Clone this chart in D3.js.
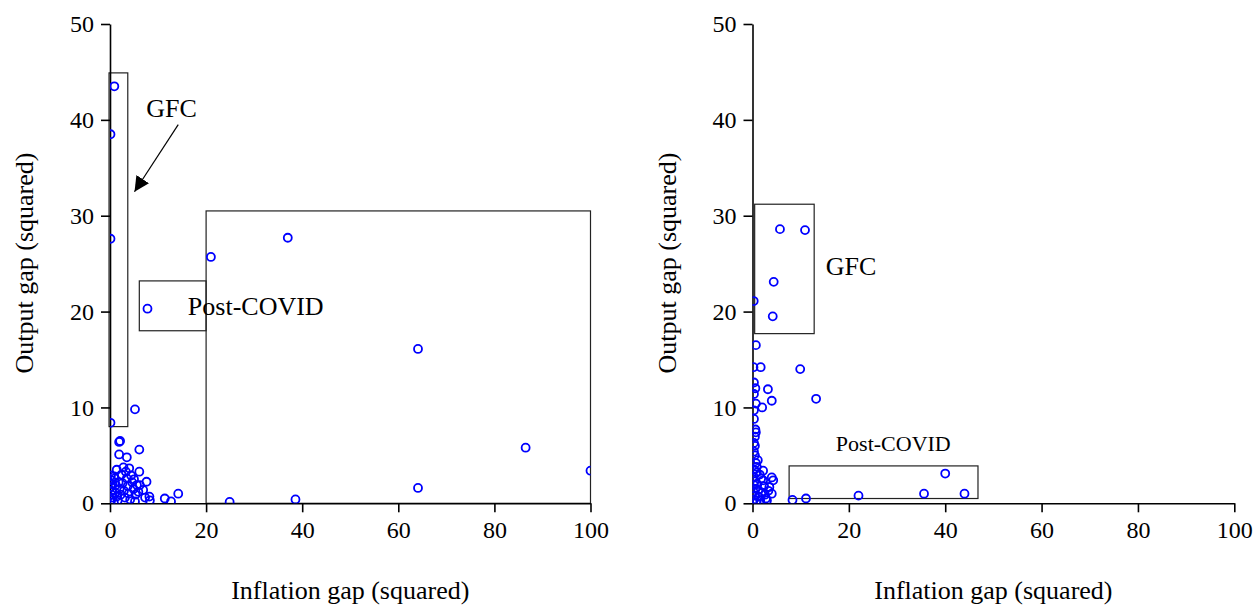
<!DOCTYPE html>
<html>
<head>
<meta charset="utf-8">
<script src="https://cdn.jsdelivr.net/npm/d3@7"></script>
<style>
  body { margin: 0; background: #fff; }
  svg { display: block; font-family: "Liberation Serif", "Times New Roman", serif; }
</style>
</head>
<body>
<svg id="chart"></svg>
<script>
// tick values
var xTicks = [0, 20, 40, 60, 80, 100];
var yTicks = [0, 10, 20, 30, 40, 50];

// left panel: inflation gap squared vs output gap squared
var leftX = [0.9, 0.1, 0.1, 0.1, 5.2, 7.8, 21.0, 37.0, 64.1, 86.5, 100, 64.1, 38.6, 24.9,
  1.9, 2.1, 6.1, 1.9, 3.5, 1.4, 2.8, 4.0, 6.1, 7.6, 5.0, 6.2, 6.9, 7.3, 8.2, 8.3, 5.2,
  11.4, 12.7, 14.2,
  0.2, 0.3, 0.5, 0.2, 0.4, 0.3, 0.6, 0.2, 0.8, 1.0, 1.2, 1.1, 1.4, 1.6, 1.8, 2.0, 2.2,
  2.4, 2.6, 2.9, 3.1, 3.3, 3.5, 3.7, 3.9, 4.2, 4.4, 4.6, 4.9, 5.3, 5.6, 5.9, 0.9];
var leftY = [43.5, 38.5, 27.6, 8.4, 9.8, 20.3, 25.7, 27.7, 16.1, 5.8, 3.4, 1.6, 0.4, 0.14,
  6.4, 6.5, 5.6, 5.1, 4.8, 3.5, 3.75, 3.65, 3.3, 2.25, 2.5, 1.9, 1.4, 0.6, 0.7, 0.3, 0.2,
  0.5, 0.2, 1.0,
  2.9, 2.4, 2.0, 1.7, 1.3, 0.9, 0.6, 0.3, 0.1, 2.6, 1.9, 1.1, 0.7, 0.3, 2.2, 1.5, 0.9,
  3.0, 2.1, 1.3, 0.6, 3.3, 2.6, 1.8, 1.0, 0.4, 2.9, 2.2, 1.5, 0.9, 1.9, 1.2, 2.8];

// right panel
var rightX = [0.25, 5.7, 10.9, 4.4, 4.2, 0.7, 1.7, 0.2, 9.9, 0.3, 0.6, 3.2, 0.3, 4.0, 13.2,
  0.7, 2.0, 0.3, 0.3, 0.6, 0.7, 0.5, 0.3, 0.5, 0.3, 0.5, 0.7, 0.9, 2.2, 0.9, 4.0, 4.3,
  2.2, 3.5, 4.0, 2.8, 0.9,
  8.3, 11.1, 22.0, 35.6, 40.0, 44.0,
  0.2, 0.4, 0.3, 0.6, 0.2, 0.5, 0.3, 0.8, 1.0, 1.2, 1.3, 1.6, 1.8, 2.0, 2.4, 2.6, 3.0,
  3.3, 1.5, 1.1, 0.4];
var rightY = [21.1, 28.6, 28.5, 23.1, 19.5, 16.5, 14.2, 14.2, 14.0, 12.6, 12.0, 11.9, 11.4,
  10.7, 10.9, 10.4, 10.0, 9.7, 8.8, 7.7, 7.4, 6.95, 6.3, 6.0, 5.4, 5.0, 4.2, 3.8, 3.4, 3.2,
  2.7, 2.4, 2.4, 1.7, 1.0, 0.5, 0.3,
  0.35, 0.5, 0.8, 1.0, 3.1, 1.0,
  2.8, 2.3, 1.9, 1.5, 1.2, 0.8, 0.4, 0.1, 2.0, 1.4, 0.7, 0.3, 2.6, 1.1, 1.8, 0.9, 0.3,
  1.3, 3.0, 4.5, 3.5];

// annotation boxes in data units [x0, x1, y0, y1]
var leftBoxes = [[-0.2, 3.7, 8.0, 44.9], [6.1, 20.0, 18.0, 23.2], [20.0, 100, 0, 30.5]];
var rightBoxes = [[0.45, 12.8, 17.7, 31.2], [7.6, 46.8, 0.5, 3.9]];

var W = 1256, H = 607;
var svg = d3.select("#chart").attr("width", W).attr("height", H);

var yscale = d3.scaleLinear().domain([0, 50]).range([503.3, 24]);
var xLeft = d3.scaleLinear().domain([0, 100]).range([110, 590.5]);
var xRight = d3.scaleLinear().domain([0, 100]).range([752.5, 1234.3]);

function drawPanel(id, xscale, xs, ys, boxes) {
  var g = svg.append("g").attr("id", id);

  g.append("clipPath")
    .attr("id", id + "_clip")
    .append("rect")
    .attr("x", xscale(0))
    .attr("y", yscale(50))
    .attr("width", xscale(100) - xscale(0))
    .attr("height", yscale(0) - yscale(50));

  // boxes
  g.selectAll(".box")
    .data(boxes)
    .enter()
    .append("rect")
    .attr("class", "box")
    .attr("x", function (d) { return xscale(d[0]); })
    .attr("y", function (d) { return yscale(d[3]); })
    .attr("width", function (d) { return xscale(d[1]) - xscale(d[0]); })
    .attr("height", function (d) { return yscale(d[2]) - yscale(d[3]); })
    .attr("fill", "none")
    .attr("stroke", "#222")
    .attr("stroke-width", 1.2);

  var yaxis = d3.axisLeft(yscale).tickValues(yTicks).tickSize(9).tickSizeOuter(0).tickPadding(7);
  var ya = g.append("g")
    .attr("transform", "translate(" + xscale(0) + ",0)")
    .call(yaxis);
  var xaxis = d3.axisBottom(xscale).tickValues(xTicks).tickSize(9).tickSizeOuter(0).tickPadding(9);
  var xa = g.append("g")
    .attr("transform", "translate(0," + yscale(0) + ")")
    .call(xaxis);
  [ya, xa].forEach(function (a) {
    a.attr("font-family", "Liberation Serif").attr("font-size", 24);
    a.selectAll("path, line").attr("stroke", "#000").attr("stroke-width", 1.6);
    a.selectAll("text")
      .attr("fill", "#000")
      .style("font-family", "'Liberation Serif', serif");
  });

  g.append("g")
    .attr("clip-path", "url(#" + id + "_clip)")
    .selectAll(".dot")
    .data(xs)
    .enter()
    .append("circle")
    .attr("class", "dot")
    .attr("cx", function (d) { return xscale(d); })
    .attr("cy", function (d, i) { return yscale(ys[i]); })
    .attr("r", 4)
    .attr("fill", "none")
    .attr("stroke", "#0000ff")
    .attr("stroke-width", 1.8);

  var cx = (xscale(0) + xscale(100)) / 2;
  g.append("text")
    .attr("text-anchor", "middle")
    .attr("x", cx)
    .attr("y", 599)
    .style("font-size", "26px")
    .text("Inflation gap (squared)");
  g.append("text")
    .attr("text-anchor", "middle")
    .attr("transform", "translate(" + (xscale(0) - 77) + "," + 263 + ")rotate(-90)")
    .style("font-size", "26px")
    .text("Output gap (squared)");
  return g;
}

var gl = drawPanel("left", xLeft, leftX, leftY, leftBoxes);
var gr = drawPanel("right", xRight, rightX, rightY, rightBoxes);

// arrow marker
svg.append("defs")
  .append("marker")
  .attr("id", "arrow")
  .attr("viewBox", "0 0 10 10")
  .attr("refX", 10)
  .attr("refY", 5)
  .attr("markerWidth", 15)
  .attr("markerHeight", 15)
  .attr("markerUnits", "userSpaceOnUse")
  .attr("orient", "auto")
  .append("path")
  .attr("d", "M0,0L10,5L0,10Z")
  .attr("fill", "#000");

// GFC label and arrow on left panel
gl.append("text")
  .attr("x", xLeft(12.8))
  .attr("y", yscale(40.3))
  .attr("text-anchor", "middle")
  .style("font-size", "26px")
  .text("GFC");
gl.append("line")
  .attr("x1", xLeft(14.2))
  .attr("y1", yscale(39.5))
  .attr("x2", xLeft(5.1))
  .attr("y2", yscale(32.5))
  .attr("stroke", "#000")
  .attr("stroke-width", 1.2)
  .attr("marker-end", "url(#arrow)");
gl.append("text")
  .attr("x", xLeft(16.2))
  .attr("y", yscale(19.6))
  .style("font-size", "26px")
  .text("Post-COVID");

gr.append("text")
  .attr("x", xRight(15.2))
  .attr("y", yscale(23.8))
  .style("font-size", "26px")
  .text("GFC");
gr.append("text")
  .attr("x", xRight(17.3))
  .attr("y", yscale(5.5))
  .style("font-size", "22px")
  .text("Post-COVID");
</script>
</body>
</html>
